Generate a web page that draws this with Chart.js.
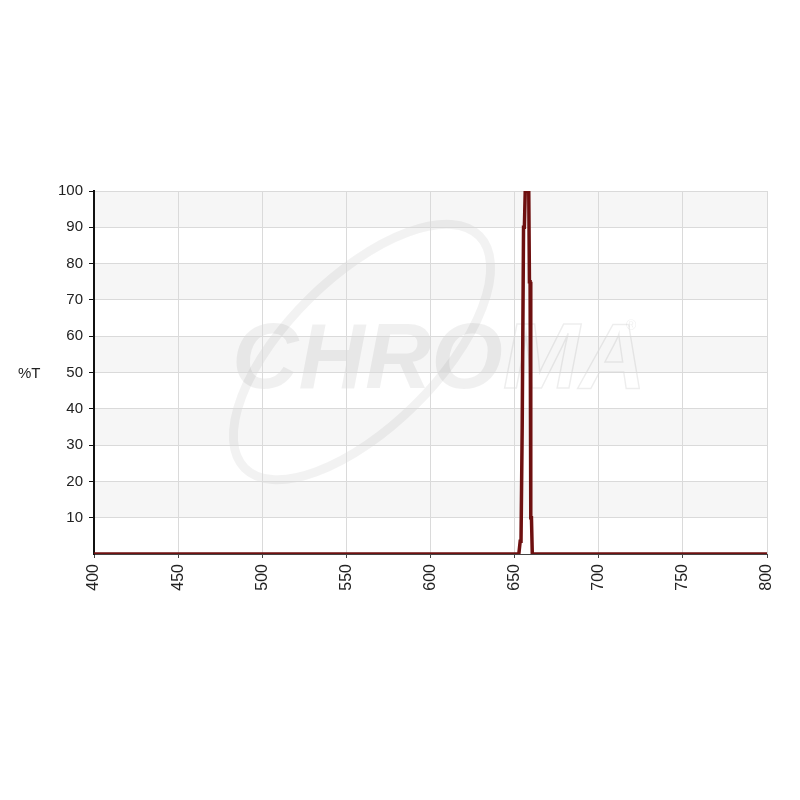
<!DOCTYPE html>
<html>
<head>
<meta charset="utf-8">
<style>
  body { margin: 0; background: #fff; }
  #wrap { position: relative; width: 800px; height: 800px; }
  #ylab { position: absolute; left: 18px; top: 364px; font: 15px "Liberation Sans", Arial, sans-serif; color: #222; }
</style>
</head>
<body>
<div id="wrap">
  <canvas id="chromaChart" width="800" height="800"></canvas>
  <div id="ylab">%T</div>
</div>
<script src="https://cdn.jsdelivr.net/npm/chart.js"></script>
<script>
// wavelength (nm) and transmission (%T)
const wavelengths  = [400, 652.5, 653.3, 653.8, 654.5, 654.9, 655.3, 655.8, 656.3, 658.4, 658.8, 659.2, 659.6, 660.0, 660.5, 800];
const transmission = [0,   0,     3.5,   3.5,   35,    35,    90,    90,    100,   100,   75,    75,    10,    10,    0,     0];
const xTicks = [400, 450, 500, 550, 600, 650, 700, 750, 800];
const yTicks = [10, 20, 30, 40, 50, 60, 70, 80, 90, 100];

const points = wavelengths.map(function(w, i) { return { x: w, y: transmission[i] }; });

// light banding behind the grid plus the faint logo
const backdrop = {
    id: 'backdrop',
    beforeDraw: function(chart) {
        const ctx = chart.ctx, area = chart.chartArea, y = chart.scales.y;
        ctx.save();
        ctx.fillStyle = '#fff';
        ctx.fillRect(area.left, area.top, area.right - area.left, area.bottom - area.top);
        ctx.fillStyle = '#f6f6f6';
        for (let v = 10; v < 100; v += 20) {
            const top = y.getPixelForValue(v + 10), bot = y.getPixelForValue(v);
            ctx.fillRect(area.left, top, area.right - area.left, bot - top);
        }
        // watermark
        ctx.translate(362, 352);
        ctx.rotate(-0.78);
        ctx.strokeStyle = 'rgba(0,0,0,0.05)';
        ctx.lineWidth = 9;
        ctx.beginPath();
        ctx.ellipse(0, 0, 165, 75, 0, 0, Math.PI * 2);
        ctx.stroke();
        ctx.setTransform(1, 0, 0, 1, 0, 0);
        ctx.font = 'italic bold 92px "Liberation Sans", Arial, sans-serif';
        ctx.textBaseline = 'alphabetic';
        ctx.fillStyle = 'rgba(0,0,0,0.06)';
        ctx.fillText('CHRO', 232, 388);
        const w = ctx.measureText('CHRO').width;
        ctx.strokeStyle = 'rgba(0,0,0,0.07)';
        ctx.lineWidth = 1.5;
        ctx.strokeText('MA', 232 + w, 388);
        ctx.font = '14px "Liberation Sans", Arial, sans-serif';
        ctx.fillText('®', 626, 330);
        ctx.restore();
    }
};

new Chart(document.getElementById('chromaChart'), {
    type: 'line',
    data: {
        datasets: [{
            label: '%T',
            data: points,
            borderColor: '#6e1010',
            borderWidth: 3.5,
            pointRadius: 0,
            tension: 0,
            fill: false
        }]
    },
    options: {
        responsive: false,
        animation: false,
        layout: { padding: { top: 191, right: 33, left: 0, bottom: 0 } },
        plugins: { legend: { display: false }, tooltip: { enabled: false } },
        scales: {
            x: {
                type: 'linear',
                min: 400,
                max: 800,
                afterBuildTicks: function(scale) { scale.ticks = xTicks.map(function(v) { return { value: v }; }); },
                afterFit: function(scale) { scale.height = 246; },
                ticks: {
                    minRotation: 90,
                    maxRotation: 90,
                    padding: 6,
                    color: '#222',
                    font: { family: '"Liberation Sans", Arial, sans-serif', size: 16 }
                },
                grid: { color: '#dadada', tickLength: 4, tickColor: '#444' },
                border: { color: '#444', width: 1 }
            },
            y: {
                min: 0,
                max: 100,
                afterBuildTicks: function(scale) { scale.ticks = yTicks.map(function(v) { return { value: v }; }); },
                afterFit: function(scale) { scale.width = 94; },
                ticks: {
                    padding: 6,
                    color: '#222',
                    font: { family: '"Liberation Sans", Arial, sans-serif', size: 15 }
                },
                grid: { color: '#dadada', tickLength: 5, tickColor: '#111' },
                border: { color: '#111', width: 2 }
            }
        }
    },
    plugins: [backdrop]
});
</script>
</body>
</html>
